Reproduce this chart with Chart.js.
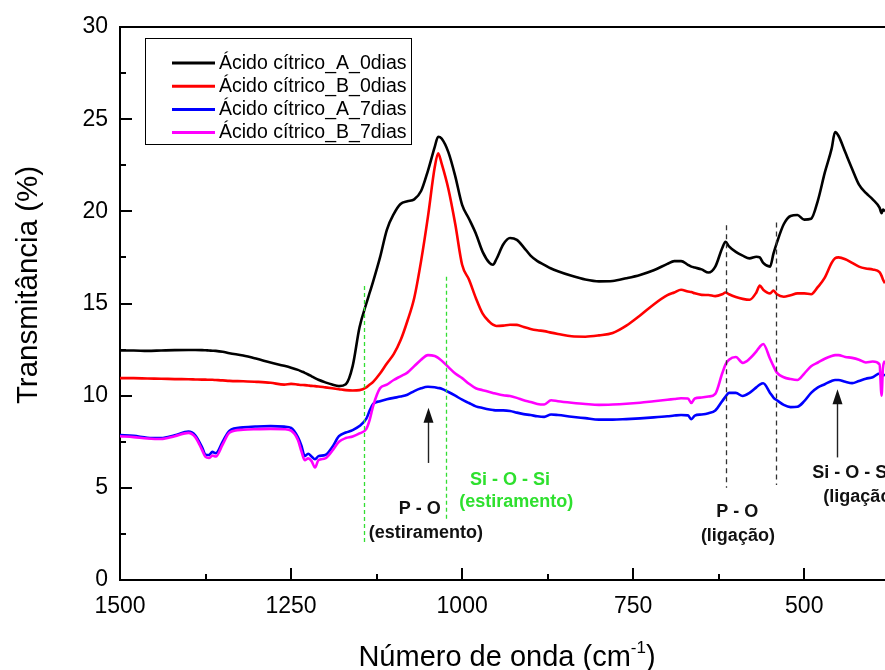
<!DOCTYPE html>
<html>
<head>
<meta charset="utf-8">
<script src="https://cdn.jsdelivr.net/npm/chart.js@4.4.1/dist/chart.umd.min.js"></script>
<style>
  html, body { margin: 0; padding: 0; background: #fff; }
  canvas { display: block; }
</style>
</head>
<body>
<canvas id="ftirChart" width="885" height="670"></canvas>
<script>
// FTIR spectra, wavenumber (cm-1) vs transmittance (%)
const waveNumbers = [
  1500, 1480, 1460, 1440, 1420, 1400, 1390, 1380, 1375, 1370,
  1365, 1360, 1350, 1340, 1320, 1300, 1280, 1260, 1250, 1240,
  1235, 1230, 1225, 1220, 1215, 1210, 1200, 1190, 1180, 1170,
  1160, 1150, 1140, 1135, 1130, 1120, 1110, 1100, 1090, 1080,
  1070, 1060, 1050, 1040, 1035, 1030, 1020, 1010, 1000, 990,
  980, 970, 960, 955, 950, 940, 930, 920, 910, 900,
  890, 880, 870, 860, 840, 820, 800, 780, 760, 740,
  720, 700, 690, 680, 670, 665, 660, 650, 640, 630,
  620, 615, 610, 600, 590, 580, 570, 565, 560, 550,
  545, 540, 530, 520, 510, 500, 490, 480, 470, 460,
  455, 450, 440, 430, 420, 410, 400, 390, 387, 385,
  382
];

const acidoA0dias = [
  12.45, 12.45, 12.43, 12.45, 12.47, 12.48, 12.48, 12.47, 12.46, 12.45,
  12.44, 12.43, 12.38, 12.30, 12.18, 12.00, 11.80, 11.62, 11.52, 11.40,
  11.32, 11.24, 11.15, 11.05, 10.95, 10.86, 10.72, 10.60, 10.52, 10.62,
  11.60, 13.70, 15.00, 15.60, 16.20, 17.50, 19.00, 19.85, 20.40, 20.55,
  20.65, 21.10, 22.20, 23.50, 24.05, 23.95, 23.20, 21.90, 20.35, 19.60,
  18.80, 17.80, 17.20, 17.10, 17.40, 18.20, 18.55, 18.45, 18.05, 17.60,
  17.30, 17.10, 16.90, 16.75, 16.50, 16.30, 16.20, 16.22, 16.37, 16.55,
  16.80, 17.15, 17.30, 17.30, 17.10, 17.00, 16.95, 16.85, 16.68, 17.00,
  18.00, 18.35, 18.10, 17.80, 17.60, 17.45, 17.54, 17.50, 17.20, 17.00,
  17.70, 18.30, 19.30, 19.75, 19.80, 19.55, 19.60, 20.60, 22.10, 23.40,
  24.30, 24.10, 23.20, 22.30, 21.45, 21.00, 20.65, 20.20, 19.90, 20.10,
  20.00
];

const acidoB0dias = [
  10.95, 10.95, 10.93, 10.92, 10.90, 10.89, 10.88, 10.87, 10.87, 10.86,
  10.86, 10.85, 10.83, 10.80, 10.78, 10.75, 10.70, 10.60, 10.64, 10.60,
  10.58, 10.57, 10.55, 10.53, 10.52, 10.50, 10.45, 10.40, 10.35, 10.30,
  10.28, 10.30, 10.45, 10.60, 10.75, 11.20, 11.75, 12.25, 13.00, 14.05,
  15.30, 17.30, 19.70, 22.40, 23.15, 22.60, 21.20, 19.30, 17.10, 16.30,
  15.30, 14.45, 14.00, 13.85, 13.78, 13.80, 13.85, 13.84, 13.72, 13.62,
  13.55, 13.50, 13.42, 13.35, 13.22, 13.20, 13.27, 13.40, 13.80, 14.35,
  14.95, 15.45, 15.60, 15.75, 15.65, 15.62, 15.55, 15.47, 15.46, 15.40,
  15.50, 15.60, 15.50, 15.35, 15.25, 15.20, 15.60, 15.97, 15.75, 15.55,
  15.70, 15.50, 15.37, 15.45, 15.55, 15.55, 15.50, 15.90, 16.40, 17.20,
  17.45, 17.50, 17.40, 17.20, 17.00, 16.90, 16.85, 16.70, 16.50, 16.30,
  16.10
];

const acidoA7dias = [
  7.87, 7.82, 7.72, 7.70, 7.85, 8.05, 7.85, 7.20, 6.80, 6.78,
  6.95, 6.88, 7.50, 8.10, 8.28, 8.33, 8.35, 8.32, 8.25, 7.75,
  7.30, 6.72, 6.85, 6.70, 6.55, 6.72, 6.78, 7.20, 7.80, 8.00,
  8.13, 8.35, 8.75, 9.20, 9.55, 9.70, 9.80, 9.88, 9.95, 10.05,
  10.25, 10.40, 10.48, 10.46, 10.42, 10.38, 10.20, 10.00, 9.78, 9.60,
  9.42, 9.33, 9.25, 9.22, 9.20, 9.20, 9.17, 9.08, 9.00, 8.95,
  8.88, 8.85, 8.98, 8.95, 8.86, 8.78, 8.70, 8.70, 8.73, 8.77,
  8.82, 8.88, 8.92, 8.95, 8.93, 8.72, 8.92, 8.98, 9.05, 9.20,
  9.70, 9.95, 10.15, 10.15, 9.98, 10.15, 10.45, 10.60, 10.67, 10.15,
  9.90, 9.75, 9.50, 9.38, 9.40, 9.70, 10.15, 10.45, 10.62, 10.80,
  10.85, 10.85, 10.75, 10.68, 10.80, 10.92, 11.00, 11.20, 11.00, 11.15,
  11.10
];

const acidoB7dias = [
  7.80, 7.75, 7.68, 7.65, 7.80, 7.98, 7.75, 7.05, 6.68, 6.62,
  6.75, 6.70, 7.35, 8.00, 8.15, 8.18, 8.20, 8.18, 8.10, 7.60,
  7.00, 6.50, 6.60, 6.45, 6.10, 6.50, 6.60, 7.00, 7.50, 7.70,
  7.78, 7.95, 8.20, 8.70, 9.45, 10.40, 10.60, 10.85, 11.05, 11.25,
  11.60, 11.95, 12.20, 12.15, 12.05, 11.90, 11.55, 11.20, 10.95, 10.65,
  10.40, 10.30, 10.20, 10.15, 10.10, 10.02, 9.98, 9.88, 9.75, 9.66,
  9.55, 9.52, 9.75, 9.70, 9.62, 9.55, 9.50, 9.52, 9.56, 9.62,
  9.70, 9.78, 9.82, 9.86, 9.85, 9.60, 9.85, 9.90, 9.95, 10.10,
  11.20, 11.70, 11.95, 12.10, 11.78, 12.00, 12.40, 12.65, 12.80, 12.00,
  11.60, 11.25, 11.00, 10.90, 10.85, 11.20, 11.60, 11.80, 12.00, 12.15,
  12.20, 12.20, 12.10, 12.05, 11.95, 11.80, 11.85, 11.70, 10.00, 11.50,
  11.90
];

const seriesLabels = [
  'Ácido cítrico_A_0dias',
  'Ácido cítrico_B_0dias',
  'Ácido cítrico_A_7dias',
  'Ácido cítrico_B_7dias'
];
const seriesColors = ['#000000', '#ff0000', '#0000ff', '#ff00ff'];

const xTicks = [1500, 1250, 1000, 750, 500];
const xMinorTicks = [1375, 1125, 875, 625];
const yTicks = [0, 5, 10, 15, 20, 25, 30];
const yMinorTicks = [2.5, 7.5, 12.5, 17.5, 22.5, 27.5];

const FONT = '"Liberation Sans", Arial, Helvetica, sans-serif';

// guide lines, arrows and band labels, placed in data coordinates
const guideLines = [
  { x: 1143, from: 15.95, to: 1.95, color: '#33dd33', dash: [4, 3] },
  { x: 1023, from: 16.45, to: 3.25, color: '#33dd33', dash: [4, 3] },
  { x: 614.5, from: 19.25, to: 5.0, color: '#333333', dash: [5, 4] },
  { x: 542, from: 19.4, to: 5.15, color: '#333333', dash: [5, 4] }
];
const arrows = [
  { x: 1050, from: 6.35, to: 9.35 },
  { x: 452, from: 6.65, to: 10.35 }
];
const bandNotes = [
  { x: 1062, y: 3.85, text: 'P - O', color: '#111111' },
  { x: 1053, y: 2.55, text: '(estiramento)', color: '#111111' },
  { x: 930, y: 5.43, text: 'Si - O - Si', color: '#2ee02e' },
  { x: 921, y: 4.25, text: '(estiramento)', color: '#2ee02e' },
  { x: 598, y: 3.71, text: 'P - O', color: '#111111' },
  { x: 597, y: 2.39, text: '(ligação)', color: '#111111' },
  { x: 430, y: 5.79, text: 'Si - O - Si', color: '#111111' },
  { x: 418, y: 4.52, text: '(ligação)', color: '#111111' }
];

const toPoints = (values) => waveNumbers.map((x, i) => ({ x: x, y: values[i] }));
const seriesValues = [acidoA0dias, acidoB0dias, acidoA7dias, acidoB7dias];

const datasets = seriesValues.map((values, i) => ({
  label: seriesLabels[i],
  data: toPoints(values),
  borderColor: seriesColors[i],
  backgroundColor: seriesColors[i],
  borderWidth: 2.6,
  pointRadius: 0,
  cubicInterpolationMode: 'monotone',
  order: 4 - i
}));

// frame on top plus inward tick marks
const frameTicks = {
  id: 'frameTicks',
  afterDraw(chart) {
    const { ctx, chartArea, scales } = chart;
    const { left, right, top, bottom } = chartArea;
    ctx.save();
    ctx.strokeStyle = '#000';
    ctx.lineWidth = 2;
    ctx.beginPath();
    ctx.moveTo(left - 1, top);
    ctx.lineTo(right + 1, top);
    ctx.stroke();

    const tick = (isX, value, len) => {
      if (isX) {
        const px = Math.round(scales.x.getPixelForValue(value));
        ctx.moveTo(px, bottom);
        ctx.lineTo(px, bottom - len);
      } else {
        const py = Math.round(scales.y.getPixelForValue(value));
        ctx.moveTo(left, py);
        ctx.lineTo(left + len, py);
      }
    };
    ctx.beginPath();
    xTicks.forEach(v => tick(true, v, 12));
    xMinorTicks.forEach(v => tick(true, v, 6));
    yTicks.forEach(v => tick(false, v, 12));
    yMinorTicks.forEach(v => tick(false, v, 6));
    ctx.stroke();
    ctx.restore();
  }
};

const bandMarks = {
  id: 'bandMarks',
  afterDatasetsDraw(chart) {
    const { ctx, scales } = chart;
    const sx = scales.x, sy = scales.y;
    ctx.save();

    guideLines.forEach(g => {
      const px = Math.round(sx.getPixelForValue(g.x)) + 0.5;
      ctx.beginPath();
      ctx.setLineDash(g.dash);
      ctx.strokeStyle = g.color;
      ctx.lineWidth = 1.3;
      ctx.moveTo(px, sy.getPixelForValue(g.from));
      ctx.lineTo(px, sy.getPixelForValue(g.to));
      ctx.stroke();
    });
    ctx.setLineDash([]);

    arrows.forEach(a => {
      const px = Math.round(sx.getPixelForValue(a.x)) + 0.5;
      const tail = sy.getPixelForValue(a.from);
      const tip = sy.getPixelForValue(a.to);
      ctx.strokeStyle = '#222';
      ctx.fillStyle = '#111';
      ctx.lineWidth = 1.4;
      ctx.beginPath();
      ctx.moveTo(px, tail);
      ctx.lineTo(px, tip + 12);
      ctx.stroke();
      ctx.beginPath();
      ctx.moveTo(px, tip);
      ctx.lineTo(px - 5, tip + 15);
      ctx.lineTo(px + 5, tip + 15);
      ctx.closePath();
      ctx.fill();
    });

    ctx.font = 'bold 18px ' + FONT;
    ctx.textAlign = 'center';
    ctx.textBaseline = 'middle';
    bandNotes.forEach(n => {
      ctx.fillStyle = n.color;
      ctx.fillText(n.text, sx.getPixelForValue(n.x), sy.getPixelForValue(n.y));
    });
    ctx.restore();
  }
};

const boxedLegend = {
  id: 'boxedLegend',
  afterDraw(chart) {
    const { ctx } = chart;
    const x0 = 145, y0 = 38, w = 266, h = 106, rowH = 23.2;
    ctx.save();
    ctx.fillStyle = '#fff';
    ctx.fillRect(x0, y0, w, h);
    ctx.strokeStyle = '#000';
    ctx.lineWidth = 1;
    ctx.strokeRect(x0 + 0.5, y0 + 0.5, w, h);
    ctx.font = '19.5px ' + FONT;
    ctx.textBaseline = 'middle';
    ctx.textAlign = 'left';
    chart.data.datasets.forEach((ds, i) => {
      const y = y0 + 25 + i * rowH;
      ctx.strokeStyle = ds.borderColor;
      ctx.lineWidth = 3;
      ctx.beginPath();
      ctx.moveTo(172, y);
      ctx.lineTo(215, y);
      ctx.stroke();
      ctx.fillStyle = '#000';
      ctx.fillText(ds.label, 219, y + 0.5);
    });
    ctx.restore();
  }
};

const axisTitles = {
  id: 'axisTitles',
  afterDraw(chart) {
    const { ctx } = chart;
    ctx.save();
    ctx.fillStyle = '#000';

    // y title, rotated
    ctx.font = '29.5px ' + FONT;
    ctx.textAlign = 'center';
    ctx.textBaseline = 'middle';
    ctx.translate(29, 285);
    ctx.rotate(-Math.PI / 2);
    ctx.fillText('Transmitância (%)', 0, 0);
    ctx.setTransform(1, 0, 0, 1, 0, 0);

    // x title with superscript
    const main = 'Número de onda (cm';
    const sup = '-1';
    const tail = ')';
    const bigFont = '29px ' + FONT;
    const smallFont = '17px ' + FONT;
    ctx.font = bigFont;
    const w1 = ctx.measureText(main).width;
    const w3 = ctx.measureText(tail).width;
    ctx.font = smallFont;
    const w2 = ctx.measureText(sup).width;
    const cx = 507;
    const base = 666;
    let x = cx - (w1 + w2 + w3) / 2;
    ctx.textAlign = 'left';
    ctx.textBaseline = 'alphabetic';
    ctx.font = bigFont;
    ctx.fillText(main, x, base);
    x += w1;
    ctx.font = smallFont;
    ctx.fillText(sup, x, base - 13);
    x += w2;
    ctx.font = bigFont;
    ctx.fillText(tail, x, base);
    ctx.restore();
  }
};

new Chart(document.getElementById('ftirChart').getContext('2d'), {
  type: 'line',
  data: { datasets: datasets },
  plugins: [frameTicks, bandMarks, boxedLegend, axisTitles],
  options: {
    responsive: false,
    animation: false,
    layout: { padding: { top: 27, right: 0, left: 0, bottom: 0 } },
    plugins: {
      legend: { display: false },
      tooltip: { enabled: false }
    },
    scales: {
      x: {
        type: 'linear',
        reverse: true,
        min: 382,
        max: 1500,
        afterBuildTicks: (scale) => { scale.ticks = xTicks.map(v => ({ value: v })); },
        afterFit: (scale) => { scale.height = 90; },
        grid: { display: false, drawTicks: false },
        border: { display: true, color: '#000', width: 2 },
        ticks: {
          padding: 13,
          color: '#000',
          maxRotation: 0,
          font: { family: FONT, size: 23 },
          callback: (value) => String(value)
        }
      },
      y: {
        min: 0,
        max: 30,
        afterBuildTicks: (scale) => { scale.ticks = yTicks.map(v => ({ value: v })); },
        afterFit: (scale) => { scale.width = 120; },
        grid: { display: false, drawTicks: false },
        border: { display: true, color: '#000', width: 2 },
        ticks: {
          padding: 12,
          color: '#000',
          font: { family: FONT, size: 23 },
          callback: (value) => String(value)
        }
      }
    }
  }
});
</script>
</body>
</html>
